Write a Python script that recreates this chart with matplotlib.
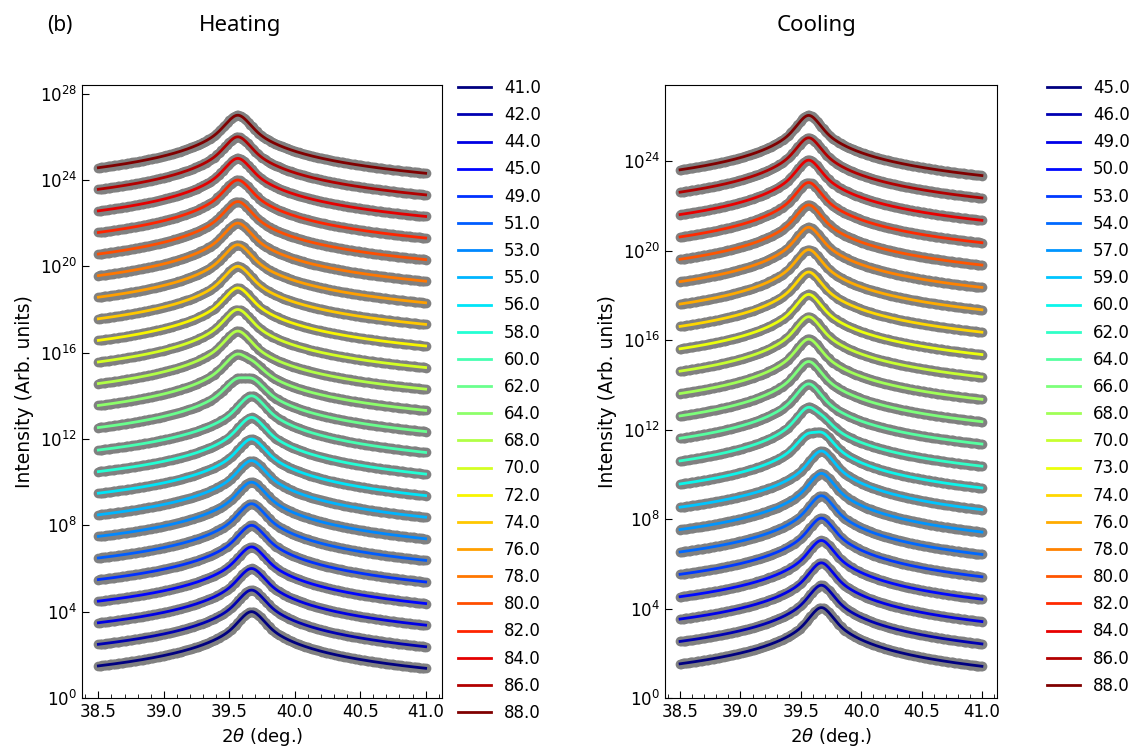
import matplotlib
matplotlib.use("Agg")
import matplotlib.pyplot as plt
import numpy as np
from matplotlib.ticker import MultipleLocator, NullLocator

# set temperatures (deg C), bottom trace first
heat_temps = [41.0, 42.0, 44.0, 45.0, 49.0, 51.0, 53.0, 55.0, 56.0, 58.0, 60.0, 62.0,
              64.0, 68.0, 70.0, 72.0, 74.0, 76.0, 78.0, 80.0, 82.0, 84.0, 86.0, 88.0]
cool_temps = [45.0, 46.0, 49.0, 50.0, 53.0, 54.0, 57.0, 59.0, 60.0, 62.0, 64.0, 66.0,
              68.0, 70.0, 73.0, 74.0, 76.0, 78.0, 80.0, 82.0, 84.0, 86.0, 88.0]

# share of the high-temperature reflection in each scan (0 = low-T phase only)
heat_frac = [0.0, 0.0, 0.0, 0.0, 0.0, 0.0, 0.0, 0.0, 0.0, 0.0, 0.0, 0.5,
             0.8, 1.0, 1.0, 1.0, 1.0, 1.0, 1.0, 1.0, 1.0, 1.0, 1.0, 1.0]
cool_frac = [0.0, 0.0, 0.0, 0.0, 0.0, 0.0, 0.0, 0.0, 0.45, 0.85, 1.0, 1.0,
             1.0, 1.0, 1.0, 1.0, 1.0, 1.0, 1.0, 1.0, 1.0, 1.0, 1.0]

# fitted pseudo-Voigt parameters
peak_low_t = 39.67      # 2theta of low-temperature phase
peak_high_t = 39.565    # 2theta of high-temperature phase
hwhm = 0.075
lor_share = 0.75
heat_amp = 1.0e4
cool_amp = 1.1e4
offset_step = 10.0      # vertical shift between successive scans

two_theta = np.arange(38.5, 41.0001, 0.01)


def pseudo_voigt(x, center):
    u = (x - center) / hwhm
    gau = np.exp(-np.log(2) * u ** 2)
    lor = 1.0 / (1.0 + u ** 2)
    return (1.0 - lor_share) * gau + lor_share * lor


def profile(x, frac, amp):
    return amp * ((1.0 - frac) * pseudo_voigt(x, peak_low_t) + frac * pseudo_voigt(x, peak_high_t))


def draw_panel(axis, temps, fracs, amp, ymax):
    colors = plt.cm.jet(np.linspace(0, 1, len(temps)))
    curves = []
    for idx, frac in enumerate(fracs):
        curves.append(profile(two_theta, frac, amp) * offset_step ** idx)
    for curve in curves:
        axis.plot(two_theta, curve, "o", color="#808080", ms=7, mec="none", zorder=1)
    handles = []
    for idx, curve in enumerate(curves):
        line, = axis.plot(two_theta, curve, color=colors[idx], lw=2.0, zorder=2)
        handles.append(line)
    axis.set_yscale("log")
    axis.set_xlim(38.375, 41.125)
    axis.set_ylim(1, ymax)
    axis.set_yticks([10.0 ** k for k in range(0, 29, 4) if 10.0 ** k <= ymax])
    axis.yaxis.set_minor_locator(NullLocator())
    axis.xaxis.set_major_locator(MultipleLocator(0.5))
    axis.xaxis.set_minor_locator(MultipleLocator(0.1))
    axis.tick_params(which="both", direction="in", labelsize=12, top=False, right=False)
    axis.tick_params(which="major", length=5)
    axis.tick_params(which="minor", length=3)
    axis.set_xlabel(r"2$\theta$ (deg.)", fontsize=13)
    axis.set_ylabel("Intensity (Arb. units)", fontsize=13.5)
    return handles


fig = plt.figure(figsize=(11.46, 7.51), dpi=100)
W, H = 1146.0, 751.0
ax_heat = fig.add_axes([82 / W, 1 - 698 / H, 360 / W, 613 / H])
ax_cool = fig.add_axes([665 / W, 1 - 698 / H, 332 / W, 613 / H])

heat_handles = draw_panel(ax_heat, heat_temps, heat_frac, heat_amp, 10 ** 28.4)
cool_handles = draw_panel(ax_cool, cool_temps, cool_frac, cool_amp, 10 ** 27.4)

for axis, handles, temps, x0 in [
    (ax_heat, heat_handles, heat_temps, 458),
    (ax_cool, cool_handles, cool_temps, 1047),
]:
    axis.legend(
        handles,
        [f"{t:.1f}" for t in temps],
        loc="upper left",
        bbox_to_anchor=(x0 / W, 1 - 79 / H),
        bbox_transform=fig.transFigure,
        frameon=False,
        fontsize=12,
        borderpad=0,
        borderaxespad=0,
        labelspacing=0.55,
        handlelength=2.0,
        handletextpad=0.75,
    )

fig.text(60 / W, 1 - 25 / H, "(b)", ha="center", va="center", fontsize=15, family="Noto Sans")
fig.text(240 / W, 1 - 25 / H, "Heating", ha="center", va="center", fontsize=16, family="Noto Sans")
fig.text(816 / W, 1 - 25 / H, "Cooling", ha="center", va="center", fontsize=16, family="Noto Sans")

fig.savefig("out.png", dpi=100)
